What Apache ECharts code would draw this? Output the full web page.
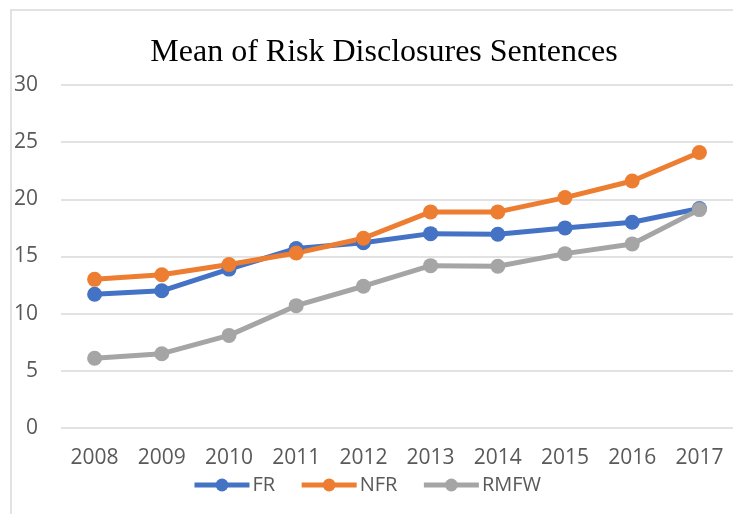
<!DOCTYPE html>
<html><head><meta charset="utf-8">
<script src="https://cdn.jsdelivr.net/npm/echarts@6/dist/echarts.min.js"></script>
<style>html,body{margin:0;padding:0;background:#fff}#c{width:733px;height:514px}</style>
</head><body><div id="c"></div>
<script>
var years = ['2008','2009','2010','2011','2012','2013','2014','2015','2016','2017'];
var FR   = [11.7, 12.0, 13.9, 15.7, 16.2, 17.0, 16.95, 17.5, 18.0, 19.2];
var NFR  = [13.0, 13.4, 14.3, 15.3, 16.6, 18.9, 18.9, 20.15, 21.6, 24.1];
var RMFW = [6.1, 6.5, 8.1, 10.7, 12.4, 14.2, 14.15, 15.25, 16.1, 19.1];
var chart = echarts.init(document.getElementById('c'));
function s(name, data, color){
  return {name:name, type:'line', data:data, symbol:'circle', symbolSize:15,
    lineStyle:{width:5, color:color}, itemStyle:{color:color}, z: 2};
}
chart.setOption({
  animation:false,
  graphic:[{type:'rect', shape:{x:11,y:10,width:740,height:520}, style:{fill:'none', stroke:'#d9d9d9', lineWidth:1.5}, z:-1}],
  title:{text:'Mean of Risk Disclosures Sentences', left:379, top:32, textAlign:'center',
    textStyle:{fontFamily:'Liberation Serif', fontWeight:'normal', fontSize:32, color:'#000'}},
  legend:{left:'center', top:470, itemWidth:55, itemHeight:16, itemGap:24,
    lineStyle:{width:5}, itemStyle:{},
    textStyle:{fontFamily:'Open Sans', fontSize:20, color:'#595959', padding:[0,0,0,-2]}, data:['FR','NFR','RMFW']},
  grid:{left:61, top:85, width:679, height:343},
  xAxis:{type:'category', data:years, boundaryGap:true,
    axisLine:{show:false}, axisTick:{show:false},
    axisLabel:{fontFamily:'Open Sans', fontSize:21, color:'#595959', margin:20}},
  yAxis:{type:'value', min:0, max:30, interval:5,
    splitLine:{lineStyle:{color:'#d9d9d9', width:1.5}},
    axisLine:{show:false}, axisTick:{show:false},
    axisLabel:{fontFamily:'Open Sans', fontSize:21, color:'#595959', margin:23}},
  series:[s('FR',FR,'#4472C4'), s('NFR',NFR,'#ED7D31'), s('RMFW',RMFW,'#A5A5A5')]
});
</script></body></html>
